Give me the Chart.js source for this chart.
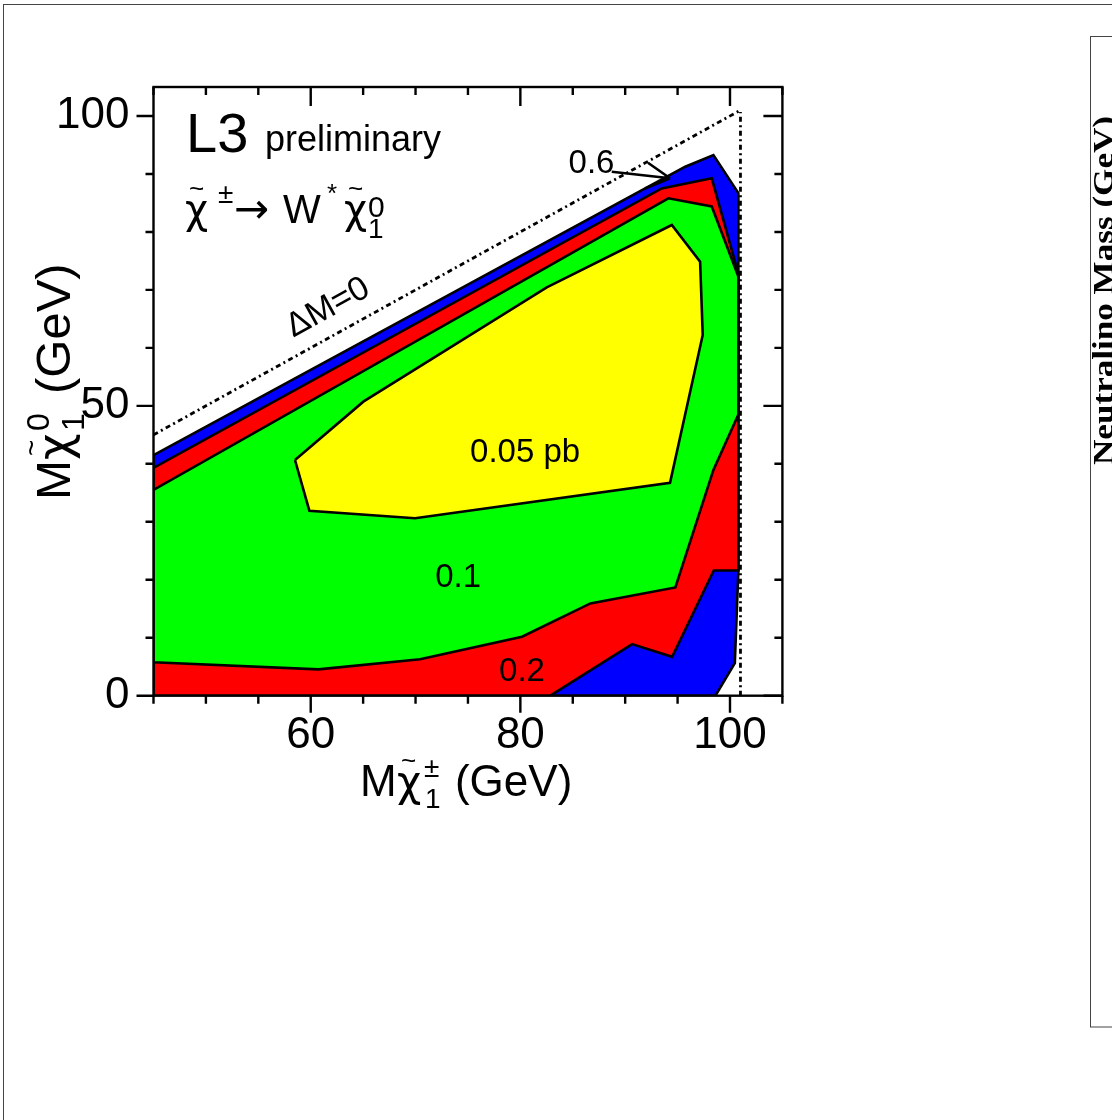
<!DOCTYPE html>
<html>
<head>
<meta charset="utf-8">
<script src="https://cdn.jsdelivr.net/npm/chart.js@4.4.1/dist/chart.umd.min.js"></script>
<style>
  html, body { margin: 0; padding: 0; background: #fff; overflow: hidden; }
  #c { position: absolute; left: 0; top: 0; }
</style>
</head>
<body>
<canvas id="c" width="1112" height="1120"></canvas>
<script>
// Axis tick labels
const xTickValues = [60, 80, 100];
const yTickValues = [0, 50, 100];

// Upper-limit contours in (chargino mass, neutralino mass), GeV
// 0.6 pb
const c06X = [45.0, 95.73, 98.42, 100.8, 100.8, 100.46, 98.61, 45.0];
const c06Y = [41.5, 91.25, 93.27, 86.7, 21.6, 5.6, 0.0, 0.0];
// 0.2 pb
const c02X = [45.0, 93.49, 98.26, 100.8, 100.8, 98.45, 94.48, 90.66, 82.86, 45.0];
const c02Y = [39.3, 87.5, 89.25, 72.8, 21.6, 21.6, 6.7, 8.9, 0.0, 0.0];
// 0.1 pb
const c01X = [45.0, 94.12, 98.26, 100.8, 100.8, 98.42, 94.79, 86.68, 80.16, 70.43, 60.73, 45.0];
const c01Y = [35.5, 85.8, 84.4, 72.3, 48.5, 38.94, 18.68, 15.92, 10.18, 6.28, 4.55, 5.76];
// 0.05 pb
const c005X = [58.50, 65.02, 82.52, 94.45, 97.15, 97.40, 94.28, 69.95, 59.87];
const c005Y = [40.66, 50.72, 70.45, 81.2, 74.87, 62.22, 36.74, 30.60, 31.91];

// Delta M = 0 line and kinematic limit
const diagX = [45, 100.9];
const diagY = [45, 100.9];
const limitX = [101.0, 101.0];
const limitY = [0, 100.7];

// Arrow pointing at the thin 0.6 pb band
const arrowX = [88.72, 94.28];
const arrowY = [90.39, 89.25];

const FONT = '"Liberation Sans", Arial, sans-serif';
const GREEK = '"DejaVu Sans", sans-serif';
Chart.defaults.font.family = FONT;
Chart.defaults.color = '#000';

function closedPoints(xs, ys) {
  const pts = xs.map((x, i) => ({ x, y: ys[i] }));
  pts.push({ x: xs[0], y: ys[0] });
  return pts;
}
function polygon(xs, ys, color, order) {
  return {
    data: closedPoints(xs, ys),
    showLine: true, fill: 'shape', backgroundColor: color,
    borderColor: '#000', borderWidth: 2.6, borderJoinStyle: 'miter',
    pointRadius: 0, tension: 0, order
  };
}
function dashLine(xs, ys) {
  return {
    data: xs.map((x, i) => ({ x, y: ys[i] })),
    showLine: true, fill: false, borderColor: '#000', borderWidth: 2.8,
    borderDash: [5, 3.5, 2, 3.5], pointRadius: 0, tension: 0, order: 0
  };
}

// Frame with outward ticks (bottom, left) and inward ticks (top, right)
const frameTicks = {
  id: 'frameTicks',
  afterDatasetsDraw(chart) {
    const { ctx, chartArea: a, scales: { x, y } } = chart;
    ctx.save();
    ctx.strokeStyle = '#000';
    ctx.lineWidth = 2.4;
    ctx.strokeRect(a.left, a.top, a.right - a.left, a.bottom - a.top);
    ctx.beginPath();
    for (let v = x.min; v <= x.max + 1e-9; v += 5) {
      const p = x.getPixelForValue(v);
      const major = xTickValues.includes(v);
      ctx.moveTo(p, a.bottom); ctx.lineTo(p, a.bottom + (major ? 17 : 8));
      ctx.moveTo(p, a.top); ctx.lineTo(p, a.top + (major ? 19 : 8));
    }
    for (let v = y.min; v <= y.max + 1e-9; v += 10) {
      const p = y.getPixelForValue(v);
      const major = yTickValues.includes(v);
      ctx.moveTo(a.left, p); ctx.lineTo(a.left - (major ? 17 : 8), p);
      ctx.moveTo(a.right, p); ctx.lineTo(a.right - (major ? 19 : 8), p);
    }
    ctx.stroke();
    ctx.restore();
  }
};

// each run: [text, size, dx, dy, family]
function drawRuns(ctx, parts) {
  for (const [t, size, dx, dy, fam] of parts) {
    ctx.font = size + 'px ' + (fam || FONT);
    ctx.fillText(t, dx, dy);
  }
}

// Titles, annotations and the neighbouring panel edge
const annotations = {
  id: 'annotations',
  afterDraw(chart) {
    const { ctx, chartArea: a, scales: { x, y } } = chart;
    const X = v => x.getPixelForValue(v);
    const Y = v => y.getPixelForValue(v);
    ctx.save();
    ctx.fillStyle = '#000';
    ctx.textBaseline = 'alphabetic';
    ctx.textAlign = 'left';

    // page border and neighbouring panel
    ctx.strokeStyle = '#444';
    ctx.lineWidth = 1;
    ctx.strokeRect(3.5, 4.5, 1300, 1300);
    ctx.strokeRect(1090.5, 36.5, 300, 990.5);
    ctx.save();
    ctx.translate(1113, 465);
    ctx.rotate(-Math.PI / 2);
    ctx.scale(1.17, 1);
    ctx.font = 'bold 30px "Liberation Serif", "Times New Roman", serif';
    ctx.fillText('Neutralino Mass (GeV)', 0, 0);
    ctx.restore();

    // experiment tag
    ctx.font = '56px ' + FONT;
    ctx.fillText('L3', X(48.1), Y(93.8));
    ctx.font = '36px ' + FONT;
    ctx.fillText('preliminary', X(55.64), Y(93.95));

    // decay channel
    ctx.save();
    ctx.translate(X(48.0), Y(81.5));
    drawRuns(ctx, [
      ['\u03C7', 40, 0, 0, GREEK], ['~', 26, 4, -26], ['\u00B1', 28, 33, -20],
      ['\u2192', 42, 49, 0, GREEK], ['W', 40, 98, 0], ['*', 26, 142, -21],
      ['\u03C7', 40, 159, 0, GREEK], ['~', 26, 163, -26], ['0', 30, 183, -6], ['1', 28, 183, 15]
    ]);
    ctx.restore();

    // contour labels
    ctx.textAlign = 'center';
    ctx.font = '33px ' + FONT;
    ctx.fillText('0.6', X(86.79), Y(90.17));
    ctx.fillText('0.05 pb', X(80.45), Y(40.3));
    ctx.fillText('0.1', X(74.06), Y(18.75));
    ctx.fillText('0.2', X(80.16), Y(2.59));

    // arrow
    const x0 = X(arrowX[0]), y0 = Y(arrowY[0]), x1 = X(arrowX[1]), y1 = Y(arrowY[1]);
    const ang = Math.atan2(y0 - y1, x0 - x1);
    ctx.strokeStyle = '#000';
    ctx.lineWidth = 2.6;
    ctx.beginPath();
    ctx.moveTo(x0, y0); ctx.lineTo(x1, y1);
    for (const s of [-1, 1]) {
      ctx.moveTo(x1, y1);
      ctx.lineTo(x1 + 27 * Math.cos(ang + s * 0.5), y1 + 27 * Math.sin(ang + s * 0.5));
    }
    ctx.stroke();

    // Delta M = 0 label along the diagonal
    const slope = Math.atan2(Y(100) - Y(45), X(100) - X(45));
    ctx.save();
    ctx.translate(X(61.65), Y(66.9));
    ctx.rotate(slope);
    ctx.textBaseline = 'middle';
    ctx.font = '34px ' + FONT;
    ctx.fillText('\u0394M=0', 0, 0);
    ctx.restore();

    // x axis title
    ctx.textAlign = 'left';
    ctx.textBaseline = 'alphabetic';
    ctx.save();
    ctx.translate((a.left + a.right) / 2 - 108, 796);
    drawRuns(ctx, [
      ['M', 44, 0, 0], ['\u03C7', 42, 37, 0, GREEK], ['~', 26, 41, -27],
      ['\u00B1', 28, 64, -19], ['1', 28, 65, 12], ['(GeV)', 44, 95, 0]
    ]);
    ctx.restore();

    // y axis title
    ctx.save();
    ctx.translate(70, 500);
    ctx.rotate(-Math.PI / 2);
    drawRuns(ctx, [
      ['M', 48, 0, 0], ['\u03C7', 46, 40, 0, GREEK], ['~', 28, 44, -29],
      ['0', 32, 69, -21], ['1', 32, 69, 14], ['(GeV)', 49, 106, 0]
    ]);
    ctx.restore();

    ctx.restore();
  }
};

new Chart(document.getElementById('c'), {
  type: 'scatter',
  data: {
    datasets: [
      polygon(c06X, c06Y, '#0000ff', 4),
      polygon(c02X, c02Y, '#ff0000', 3),
      polygon(c01X, c01Y, '#00ff00', 2),
      polygon(c005X, c005Y, '#ffff00', 1),
      dashLine(diagX, diagY),
      dashLine(limitX, limitY)
    ]
  },
  options: {
    responsive: false,
    animation: false,
    devicePixelRatio: 1,
    layout: { padding: { left: 0, top: 87, right: 1112 - 782.4, bottom: 0 } },
    plugins: { legend: { display: false }, tooltip: { enabled: false } },
    scales: {
      x: {
        type: 'linear', position: 'bottom', min: 45, max: 105,
        grid: { display: false, drawTicks: false },
        border: { display: false },
        afterBuildTicks: s => { s.ticks = xTickValues.map(v => ({ value: v })); },
        afterFit: s => { s.height = 1120 - 695.7; },
        ticks: { font: { size: 44 }, color: '#000', padding: 14, maxRotation: 0, autoSkip: false }
      },
      y: {
        type: 'linear', position: 'left', min: 0, max: 105,
        grid: { display: false, drawTicks: false },
        border: { display: false },
        afterBuildTicks: s => { s.ticks = yTickValues.map(v => ({ value: v })); },
        afterFit: s => { s.width = 153.5; },
        ticks: { font: { size: 44 }, color: '#000', padding: 24, autoSkip: false }
      }
    }
  },
  plugins: [frameTicks, annotations]
});
</script>
</body>
</html>
